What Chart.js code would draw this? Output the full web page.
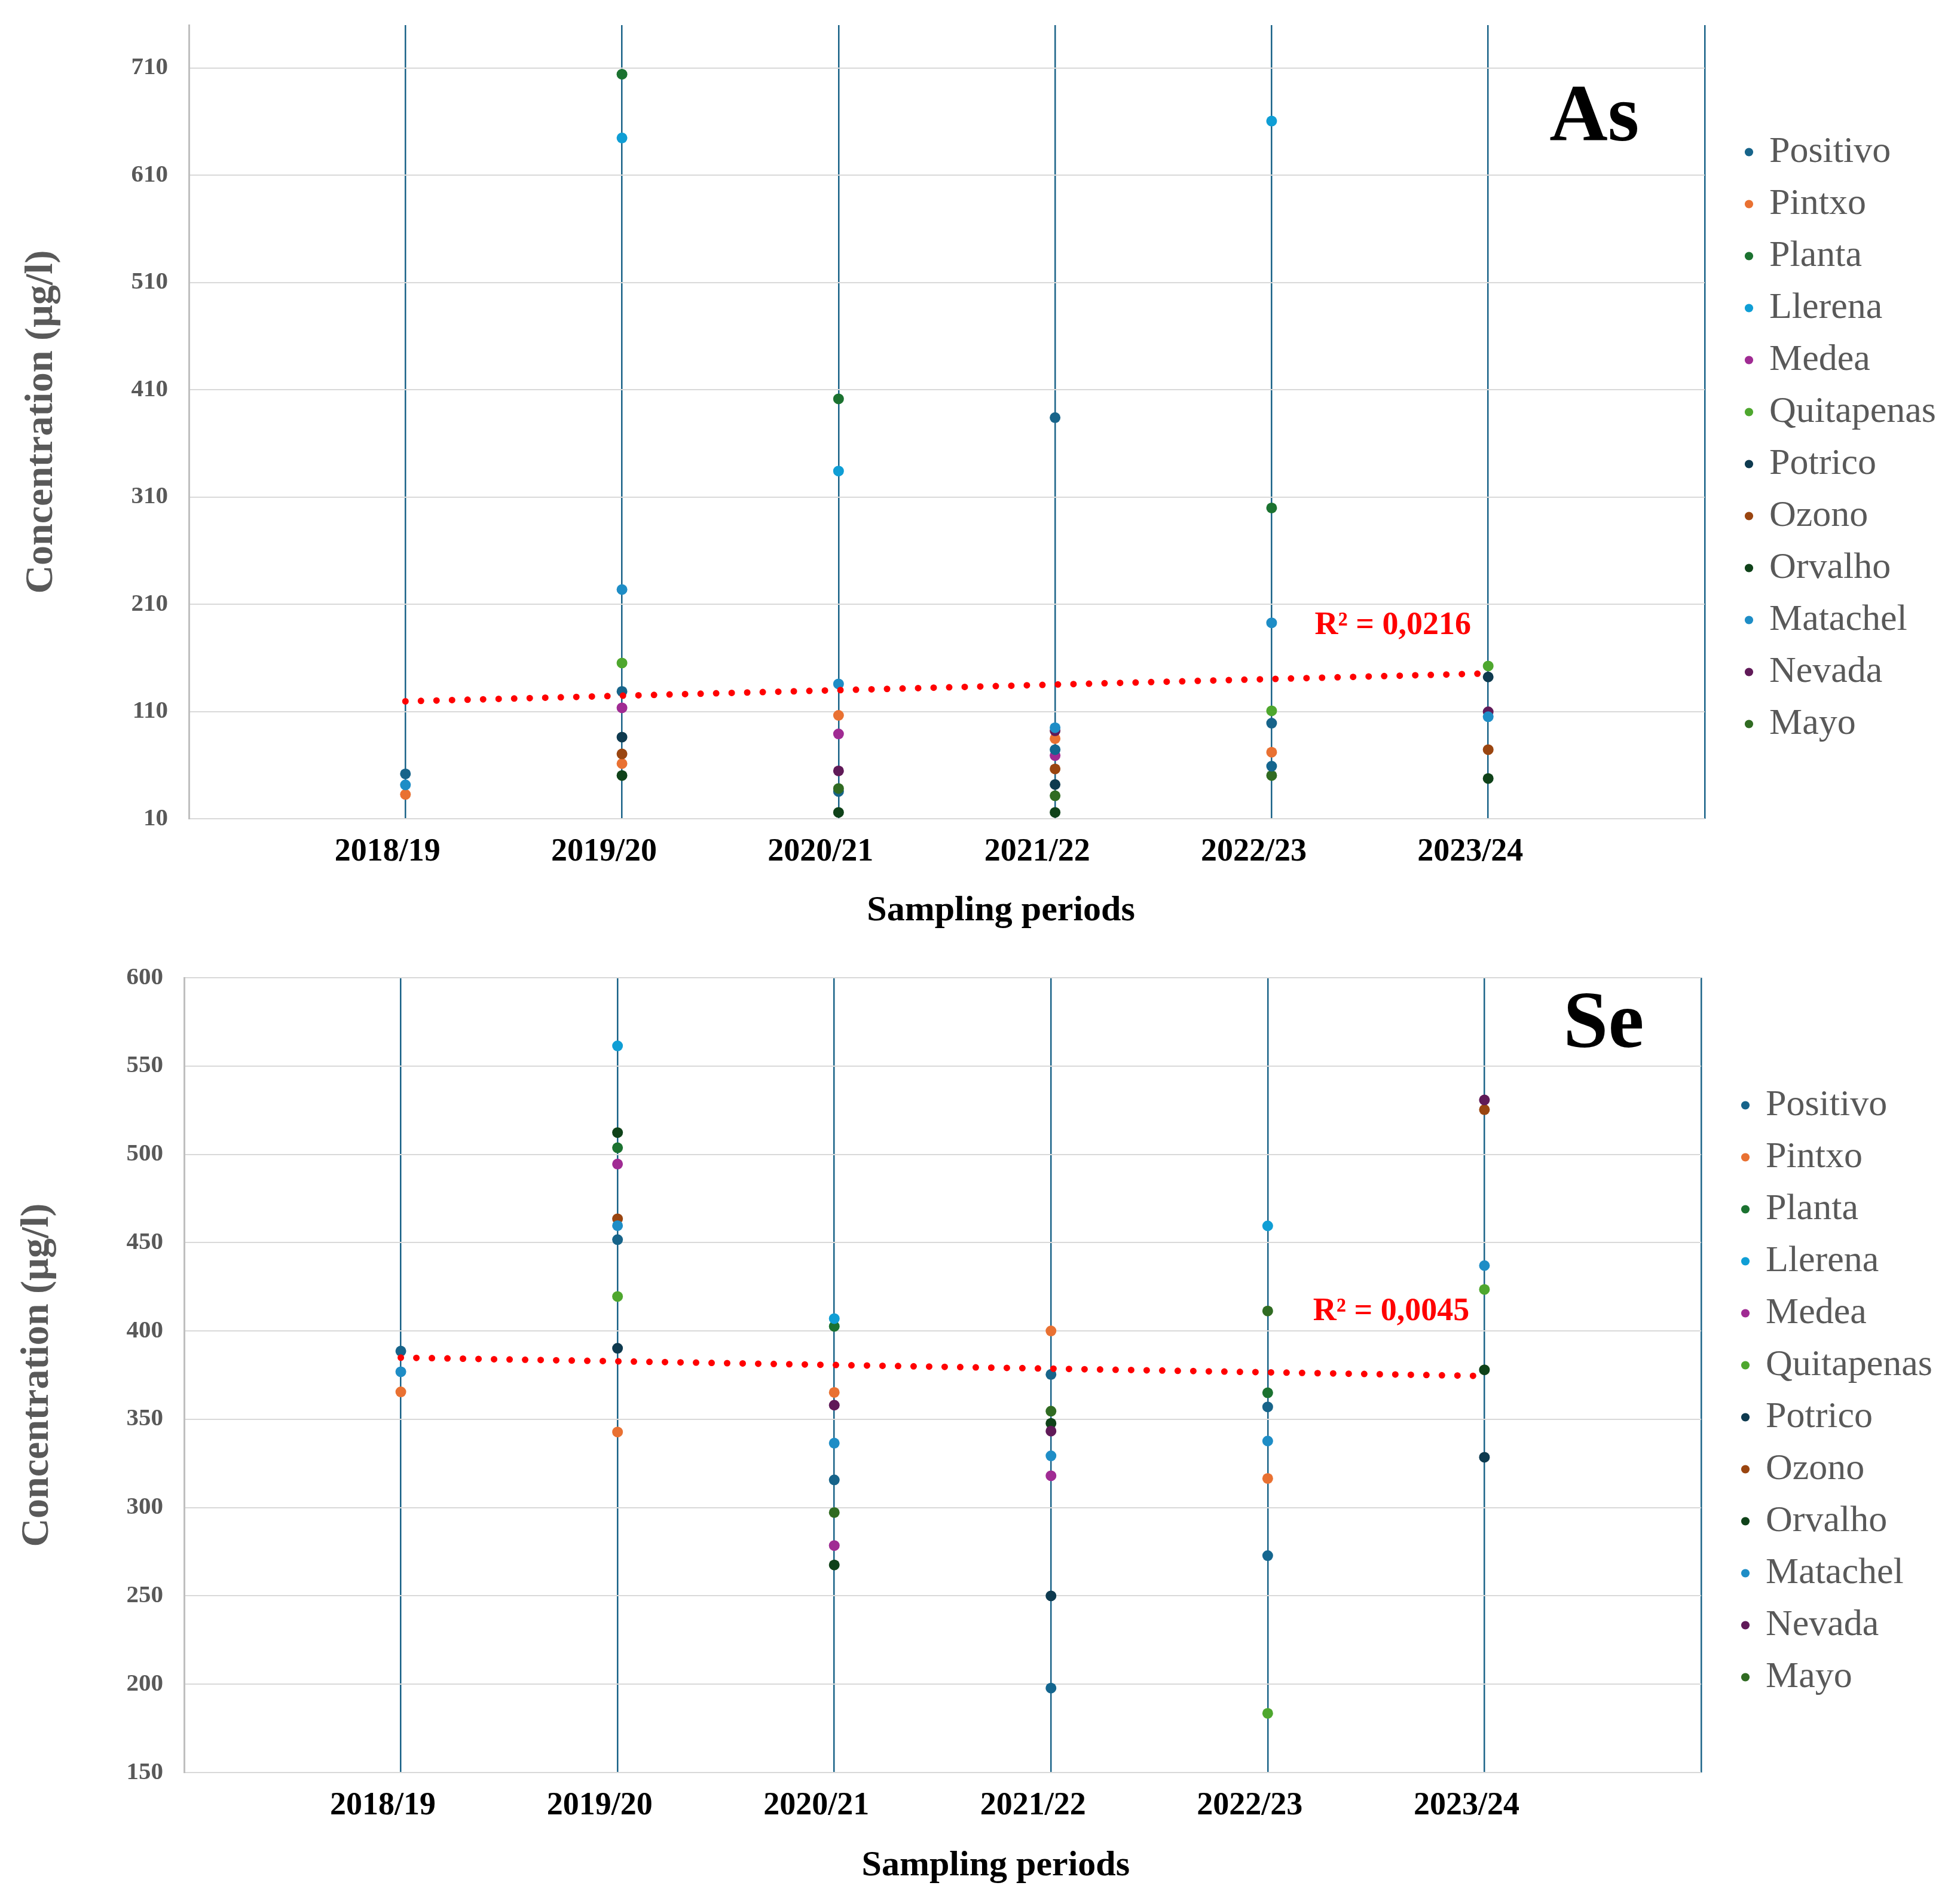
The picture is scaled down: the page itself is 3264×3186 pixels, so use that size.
<!DOCTYPE html>
<html>
<head>
<meta charset="utf-8">
<script src="https://cdn.jsdelivr.net/npm/chart.js@4.4.1/dist/chart.umd.min.js"></script>
<style>
  html, body { margin: 0; padding: 0; background: #ffffff; }
  #page { position: relative; width: 3264px; height: 3186px; background: #ffffff; }
  canvas { position: absolute; left: 0; }
</style>
</head>
<body>
<div id="page">
  <canvas id="chartAs" width="3264" height="1575" style="top:0px"></canvas>
  <canvas id="chartSe" width="3264" height="1611" style="top:1575px"></canvas>
</div>
<script>
const periods = ["2018/19", "2019/20", "2020/21", "2021/22", "2022/23", "2023/24"];
const stations = ["Positivo", "Pintxo", "Planta", "Llerena", "Medea", "Quitapenas",
                  "Potrico", "Ozono", "Orvalho", "Matachel", "Nevada", "Mayo"];

// As, µg/l
const asPositivo   = [51.8, 128.7, 35.4, 384, 99.1, null];
const asPintxo     = [32.7, 61.4, 106.4, 84.7, 72, null];
const asPlanta     = [null, 704.2, 401.5, null, 299.8, null];
const asLlerena    = [null, 644.8, 334.2, null, 660.5, null];
const asMedea      = [null, 113.4, 89.1, 68.9, null, null];
const asQuitapenas = [null, 155.2, null, null, 110.6, 152.4];
const asPotrico    = [null, 86.1, null, 41.9, null, 142.2];
const asOzono      = [null, 70.4, null, 56.4, null, 74.4];
const asOrvalho    = [null, 50.3, 15.9, 15.9, null, 47.5];
const asMatachel   = [41.6, 223.7, 135.7, 94.9, 192.7, 105.1];
const asNevada     = [null, null, 54.6, 92, null, 109.7];
const asMayo       = [null, null, 38.2, 31.4, 50.3, null];
const asUnlabelled = [null, null, null, 74.4, 59, null];
const asTrend = [119.5, 145.5];
const asTicks = [10, 110, 210, 310, 410, 510, 610, 710];
const asMax = 750;

// Se, µg/l
const sePositivo   = [388.6, 451.7, 315.7, 375.4, 357, null];
const sePintxo     = [365.5, 342.8, 365.2, 400, 316.5, null];
const sePlanta     = [null, 503.7, 402.6, null, 365, null];
const seLlerena    = [null, 561.4, 407, null, 459.5, null];
const seMedea      = [null, 494.5, 278.5, 318, null, null];
const seQuitapenas = [null, 419.5, null, null, 183.5, 423.5];
const sePotrico    = [null, 390.2, null, 250, null, 328.5];
const seOzono      = [null, 463.5, null, null, null, 525.3];
const seOrvalho    = [null, 512.3, 267.5, 347.7, null, 378];
const seMatachel   = [376.9, 459.6, 336.5, 329.3, 337.7, 437];
const seNevada     = [null, null, 358, 343.3, null, 530.8];
const seMayo       = [null, null, 297.2, 354.6, 411.3, null];
const seUnlabelled = [null, null, null, 197.8, 272.8, null];
const seTrend = [384.9, 374.5];
const seTicks = [150, 200, 250, 300, 350, 400, 450, 500, 550, 600];
const seMax = 600;

const seriesColors = ["#17648A", "#E97132", "#1B7230", "#0F9ED5", "#A02B93", "#4EA72E",
                      "#0E3A4F", "#9A4510", "#0F4219", "#1E8DC6", "#601A58", "#306B22"];
const unlabelledColor = "#14668F";

const fontFamily = "'Liberation Serif', 'Times New Roman', serif";
Chart.defaults.font.family = fontFamily;

function toPoints(values) {
    return values
        .map((v, i) => ({ x: i + 1, y: v }))
        .filter(p => p.y !== null);
}

function legendWidth(fontSize) {
    const ctx = document.createElement("canvas").getContext("2d");
    ctx.font = fontSize + "px " + fontFamily;
    const widest = Math.max(...stations.map(s => ctx.measureText(s).width));
    return 25 + 6 + fontSize / 2 + widest + 10;
}

// free text drawn on top: panel letter, R² and the x title
const textMarks = {
    id: "textMarks",
    afterDraw(chart, args, opts) {
        const ctx = chart.ctx;
        const x = chart.scales.x;
        const y = chart.scales.y;
        opts.items.forEach(item => {
            ctx.save();
            ctx.font = item.font;
            ctx.fillStyle = item.color;
            ctx.textAlign = "center";
            ctx.textBaseline = "middle";
            const px = x.getPixelForValue(item.x);
            const py = item.y !== undefined
                ? y.getPixelForValue(item.y)
                : chart.chartArea.bottom + item.below;
            ctx.fillText(item.text, px, py);
            ctx.restore();
        });
    }
};

function buildChart(canvasId, series, unlabelled, trend, ticks, yMax, box, texts) {

    const datasets = series.map((values, i) => ({
        label: stations[i],
        data: toPoints(values),
        backgroundColor: seriesColors[i],
        borderColor: seriesColors[i],
        pointRadius: 9,
        pointHoverRadius: 9,
        pointBorderWidth: 0,
        order: stations[i] === "Matachel" ? 1.5 : 13 - i
    }));

    datasets.push({
        label: "",
        data: toPoints(unlabelled),
        backgroundColor: unlabelledColor,
        borderColor: unlabelledColor,
        pointRadius: 9,
        pointHoverRadius: 9,
        pointBorderWidth: 0,
        order: 1.8
    });

    datasets.push({
        type: "line",
        label: "Linear trend",
        data: [{ x: 1, y: trend[0] }, { x: periods.length, y: trend[1] }],
        borderColor: "#FF0000",
        borderWidth: 11,
        borderDash: [0, 26],
        borderCapStyle: "round",
        pointRadius: 0,
        fill: false,
        order: 0
    });

    const lw = legendWidth(62);
    const xTicks = periods.map((p, i) => i + 1).concat(periods.length + 1);

    return new Chart(document.getElementById(canvasId), {
        type: "scatter",
        data: { datasets },
        plugins: [textMarks],
        options: {
            responsive: false,
            animation: false,
            events: [],
            layout: {
                padding: { top: box.top, right: 3264 - box.legendLeft - lw, bottom: 0, left: 0 }
            },
            scales: {
                x: {
                    type: "linear",
                    min: 0,
                    max: periods.length + 1,
                    afterBuildTicks: axis => {
                        axis.ticks = xTicks.map(v => ({ value: v }));
                    },
                    afterFit: axis => {
                        axis.height = box.xHeight;
                        axis.paddingLeft = 0;
                        axis.paddingRight = 0;
                    },
                    grid: { color: "#1A6388", lineWidth: 2.5, drawTicks: false },
                    border: { display: false },
                    ticks: {
                        callback: v => periods[v - 1] || "",
                        color: "#000000",
                        font: { size: 54, weight: "bold" },
                        padding: 24,
                        labelOffset: -30,
                        maxRotation: 0,
                        autoSkip: false
                    }
                },
                y: {
                    type: "linear",
                    min: ticks[0],
                    max: yMax,
                    afterBuildTicks: axis => {
                        axis.ticks = ticks.map(v => ({ value: v }));
                    },
                    afterFit: axis => {
                        axis.width = box.yWidth;
                        axis.paddingTop = 0;
                        axis.paddingBottom = 0;
                    },
                    grid: { color: "#D9D9D9", lineWidth: 2, drawTicks: false },
                    border: { display: true, color: "#BFBFBF", width: 3 },
                    ticks: {
                        color: "#595959",
                        font: { size: 41, weight: "bold" },
                        padding: 35
                    },
                    title: {
                        display: true,
                        text: "Concentration (µg/l)",
                        color: "#595959",
                        font: { size: 66, weight: "bold", lineHeight: 1 },
                        padding: { top: box.titleTop, bottom: 0 }
                    }
                },
                // empty strip between plot and legend
                pad: {
                    type: "linear",
                    position: "right",
                    display: true,
                    grid: { display: false, drawTicks: false },
                    border: { display: false },
                    ticks: { display: false },
                    afterFit: axis => {
                        axis.width = box.legendLeft - box.plotRight;
                        axis.paddingTop = 0;
                        axis.paddingBottom = 0;
                    }
                }
            },
            plugins: {
                tooltip: { enabled: false },
                legend: {
                    position: "right",
                    fullSize: false,
                    title: {
                        display: true,
                        text: " ",
                        font: { size: 20, lineHeight: 1 },
                        padding: { top: 17, bottom: 17 }
                    },
                    labels: {
                        usePointStyle: true,
                        pointStyle: "circle",
                        boxWidth: 6,
                        boxHeight: 10,
                        padding: 25,
                        color: "#595959",
                        font: { size: 62 },
                        filter: item => item.datasetIndex < stations.length,
                        sort: (a, b) => a.datasetIndex - b.datasetIndex
                    }
                },
                textMarks: { items: texts }
            }
        }
    });
}

buildChart(
    "chartAs",
    [asPositivo, asPintxo, asPlanta, asLlerena, asMedea, asQuitapenas,
     asPotrico, asOzono, asOrvalho, asMatachel, asNevada, asMayo],
    asUnlabelled, asTrend, asTicks, asMax,
    { top: 42, yWidth: 316, xHeight: 205, plotRight: 2852, legendLeft: 2898, titleTop: 37 },
    [
        { text: "As", x: 6.49, y: 662, font: "bold 135px " + fontFamily, color: "#000000" },
        { text: "R² = 0,0216", x: 5.56, y: 190, font: "bold 54px " + fontFamily, color: "#FF0000" },
        { text: "Sampling periods", x: 3.75, below: 154, font: "bold 60px " + fontFamily, color: "#000000" }
    ]
);

buildChart(
    "chartSe",
    [sePositivo, sePintxo, sePlanta, seLlerena, seMedea, seQuitapenas,
     sePotrico, seOzono, seOrvalho, seMatachel, seNevada, seMayo],
    seUnlabelled, seTrend, seTicks, seMax,
    { top: 61, yWidth: 308, xHeight: 220, plotRight: 2846, legendLeft: 2892, titleTop: 30 },
    [
        { text: "Se", x: 6.55, y: 572.5, font: "bold 135px " + fontFamily, color: "#000000" },
        { text: "R² = 0,0045", x: 5.57, y: 411, font: "bold 54px " + fontFamily, color: "#FF0000" },
        { text: "Sampling periods", x: 3.745, below: 156, font: "bold 60px " + fontFamily, color: "#000000" }
    ]
);
</script>
</body>
</html>
